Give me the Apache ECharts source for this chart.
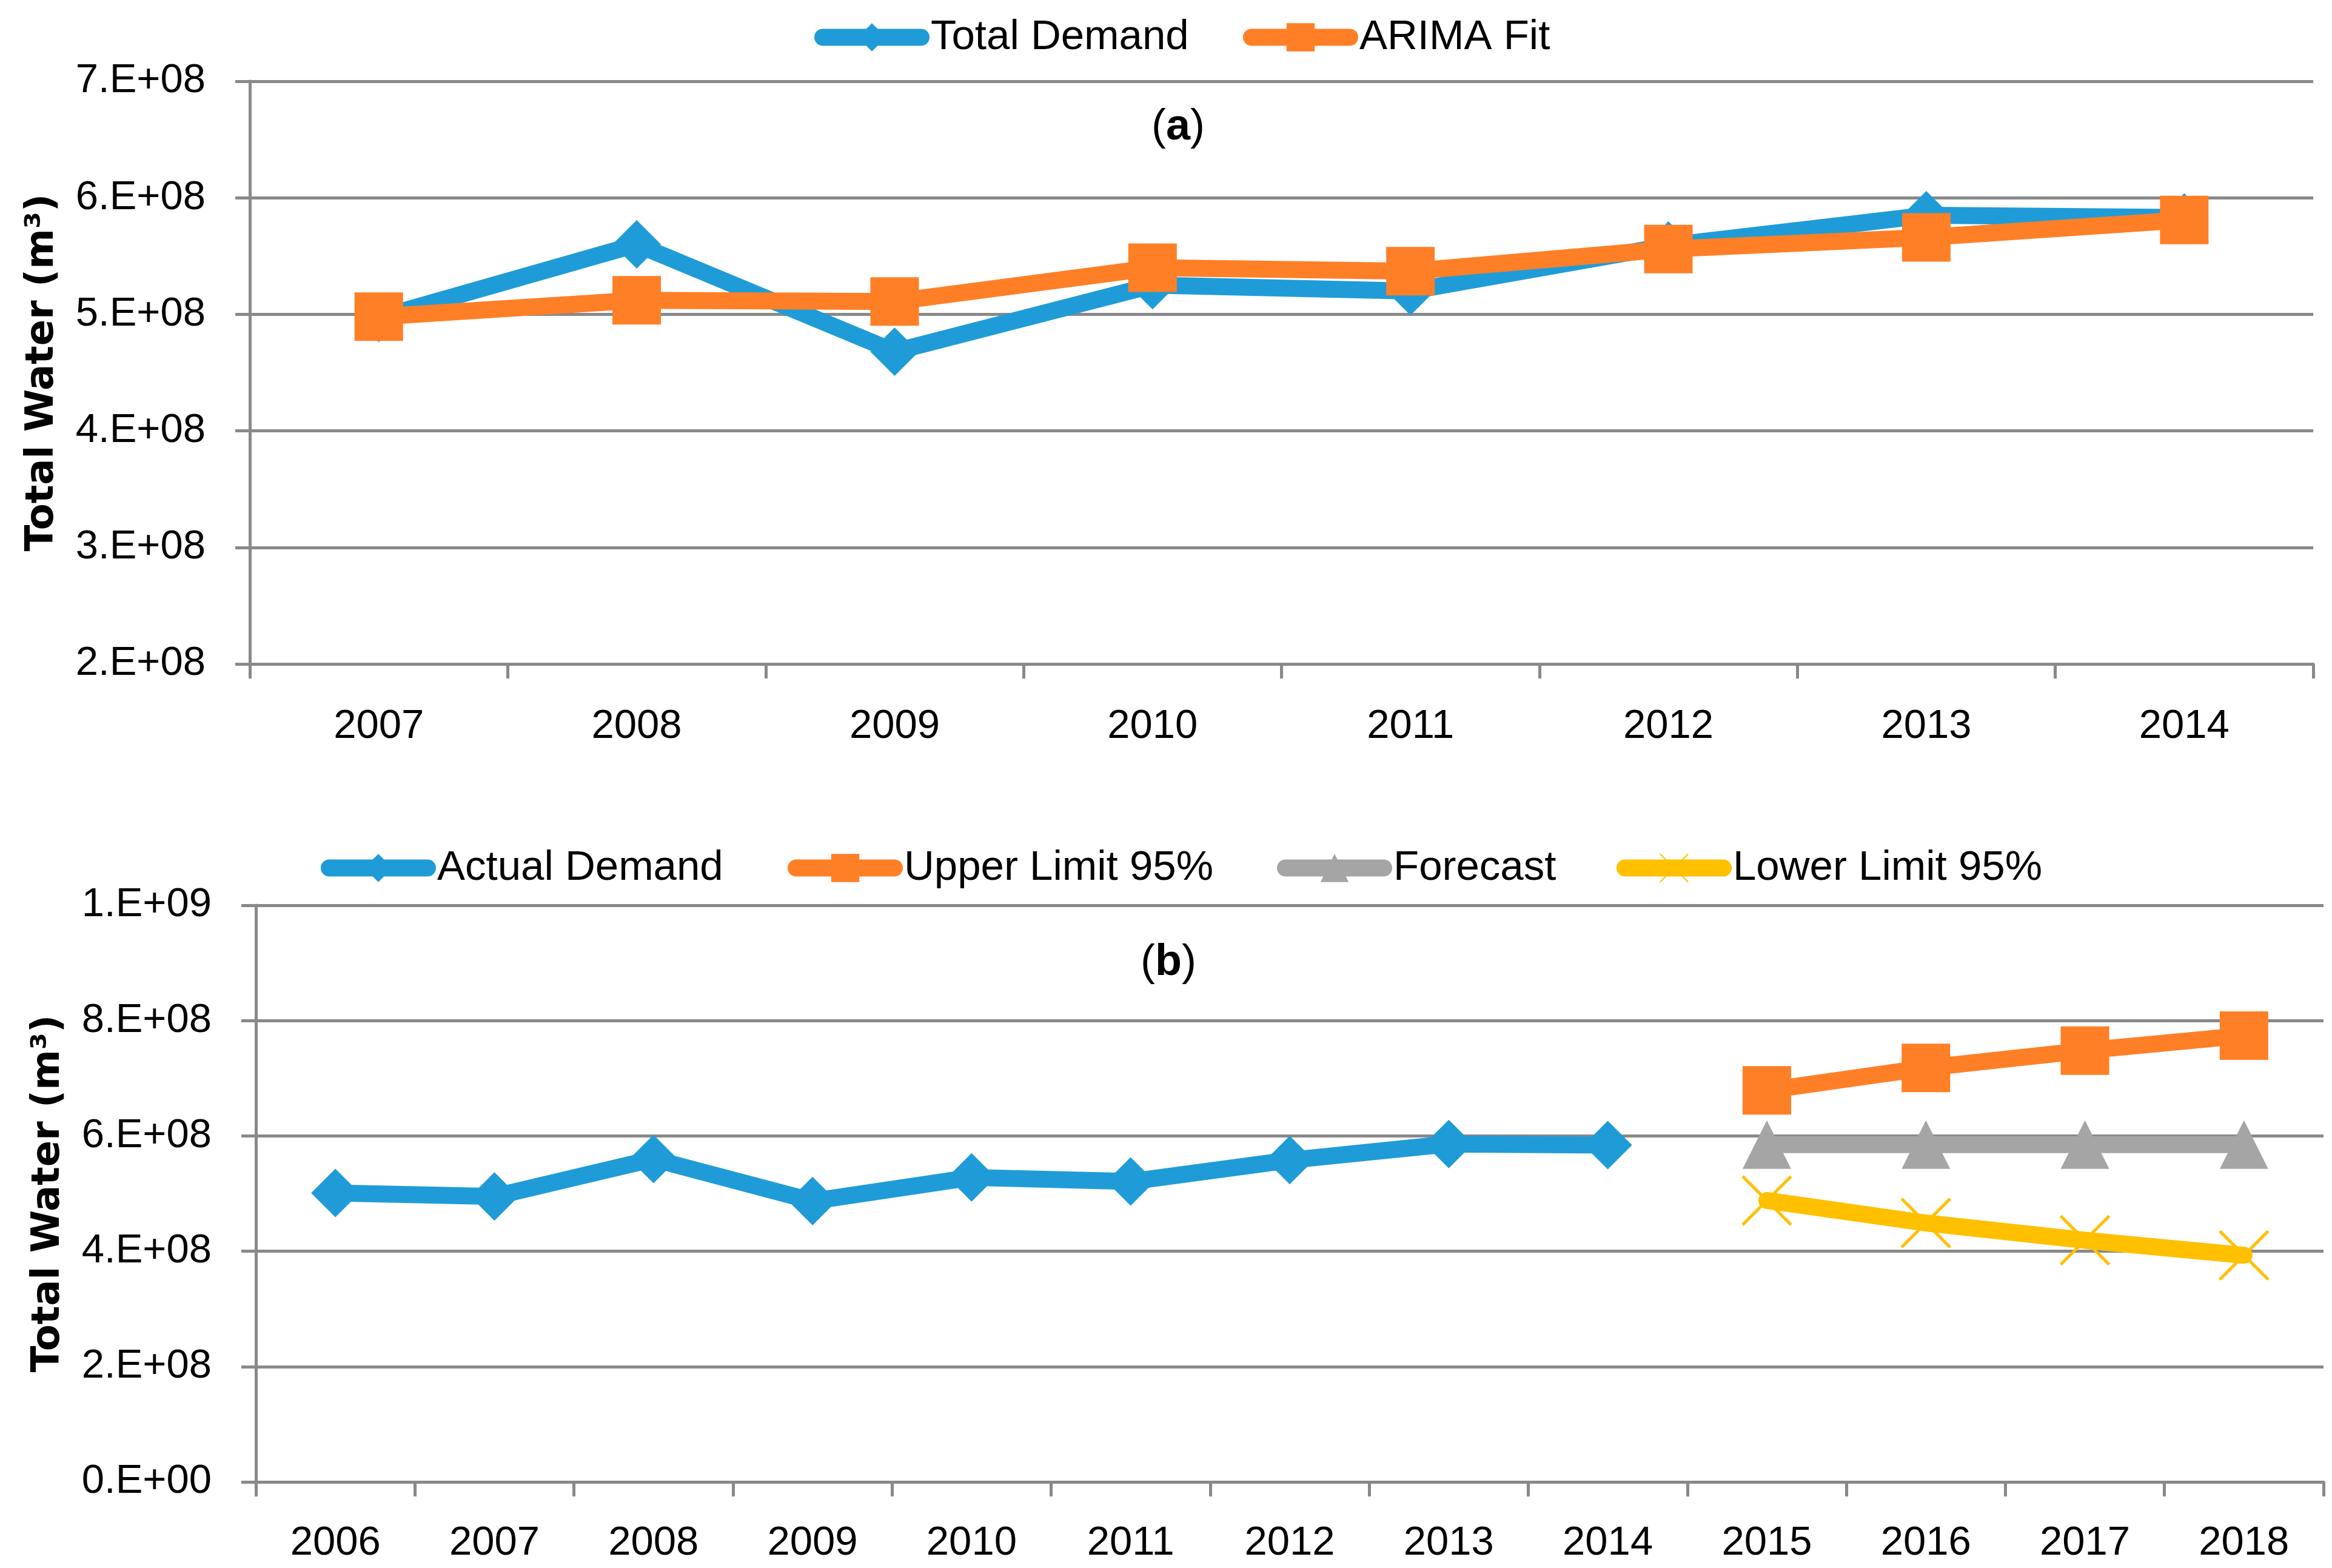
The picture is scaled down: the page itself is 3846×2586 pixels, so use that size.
<!DOCTYPE html>
<html>
<head>
<meta charset="utf-8">
<script src="https://cdn.jsdelivr.net/npm/echarts@6/dist/echarts.min.js"></script>
<style>
html,body{margin:0;padding:0;background:#fff;}
#c{width:3846px;height:2586px;}
</style>
</head>
<body>
<div id="c"></div>
<script>
// ---- Data ----
var yearsA = ['2007','2008','2009','2010','2011','2012','2013','2014'];
var totalDemand = [4.97e8, 5.60e8, 4.68e8, 5.25e8, 5.20e8, 5.59e8, 5.85e8, 5.83e8];
var arimaFit    = [4.98e8, 5.12e8, 5.11e8, 5.40e8, 5.37e8, 5.56e8, 5.66e8, 5.81e8];

var yearsB = ['2006','2007','2008','2009','2010','2011','2012','2013','2014','2015','2016','2017','2018'];
var actualDemand = [5.01e8, 4.95e8, 5.60e8, 4.87e8, 5.28e8, 5.21e8, 5.58e8, 5.86e8, 5.84e8, null, null, null, null];
var upperLimit   = [null, null, null, null, null, null, null, null, null, 6.79e8, 7.18e8, 7.48e8, 7.74e8];
var forecast     = [null, null, null, null, null, null, null, null, null, 5.85e8, 5.85e8, 5.85e8, 5.85e8];
var lowerLimit   = [null, null, null, null, null, null, null, null, null, 4.88e8, 4.49e8, 4.19e8, 3.93e8];

var yTicksA = ['2.E+08','3.E+08','4.E+08','5.E+08','6.E+08','7.E+08'];
var yTicksB = ['0.E+00','2.E+08','4.E+08','6.E+08','8.E+08','1.E+09'];
var minA = 2e8, maxA = 7e8, intA = 1e8;
var minB = 0, maxB = 1e9, intB = 2e8;

// ---- Styles ----
var FONT = 'Liberation Sans, Arial, sans-serif';
var GRAY = '#898989';
var BLUE = '#1F9CD8', ORANGE = '#FF7F27', LGRAY = '#A5A5A5', YELLOW = '#FFC000';
var LW = 28, MS = 80;
var XPATH = 'path://M0,0L10,10M10,0L0,10';

function xAxis(grid, cats, margin){
  return {
    type:'category', gridIndex:grid, data:cats, boundaryGap:true,
    axisLine:{show:true, lineStyle:{color:GRAY, width:5}},
    axisTick:{show:true, length:24, alignWithLabel:false, lineStyle:{color:GRAY, width:5}},
    axisLabel:{color:'#000', fontSize:67, fontFamily:FONT, margin:margin, interval:0},
    splitLine:{show:false}
  };
}
function yAxis(grid, min, max, interval, ticks){
  return {
    type:'value', gridIndex:grid, min:min, max:max, interval:interval,
    axisLine:{show:true, lineStyle:{color:GRAY, width:5}},
    axisTick:{show:true, length:24, lineStyle:{color:GRAY, width:5}},
    splitLine:{show:true, lineStyle:{color:GRAY, width:5}},
    axisLabel:{color:'#000', fontSize:67, fontFamily:FONT, margin:73,
      formatter:function(v){ return ticks[Math.round((v-min)/interval)]; }},
    name:'Total Water (m³)', nameLocation:'middle', nameGap:310, nameRotate:90,
    nameTextStyle:{color:'#000', fontFamily:'DejaVu Sans, sans-serif', fontWeight:'bold', fontSize:64}
  };
}
function lineSeries(name, data, color, symbol, xi, extra){
  var s = {
    name:name, type:'line', data:data, xAxisIndex:xi, yAxisIndex:xi,
    symbol:symbol, symbolSize:MS, connectNulls:false,
    lineStyle:{color:color, width:LW, cap:'round', join:'round'},
    itemStyle:{color:color},
    emphasis:{disabled:true}, animation:false
  };
  if (extra) for (var k in extra) s[k] = extra[k];
  return s;
}
function legend(name, iconLeft, top){
  return {
    data:[name], left:iconLeft - 6, top:top, orient:'horizontal',
    itemWidth:162, itemHeight:58, itemGap:0, selectedMode:false,
    textStyle:{color:'#000', fontSize:69, fontFamily:FONT, padding:[0,0,0,11]},
    lineStyle:{width:LW, cap:'round'}
  };
}

var chart = echarts.init(document.getElementById('c'), null, {renderer:'canvas'});
chart.setOption({
  backgroundColor:'#fff',
  animation:false,
  grid:[
    {left:412, right:31, top:134, bottom:2586-1095, containLabel:false},
    {left:422, right:14, top:1493, bottom:2586-2444, containLabel:false}
  ],
  xAxis:[xAxis(0, yearsA, 70), xAxis(1, yearsB, 68)],
  yAxis:[yAxis(0, minA, maxA, intA, yTicksA), yAxis(1, minB, maxB, intB, yTicksB)],
  legend:[
    legend('Total Demand', 1344, 22),
    legend('ARIMA Fit', 2051, 22),
    legend('Actual Demand', 530, 1392),
    legend('Upper Limit 95%', 1300, 1392),
    legend('Forecast', 2107, 1392),
    legend('Lower Limit 95%', 2667, 1392)
  ],
  graphic:[
    {type:'text', x:1943, y:210, style:{text:'{p|(}{b|a}{p|)}', align:'center', verticalAlign:'middle',
      rich:{p:{fontSize:72, fontFamily:FONT, fill:'#000'}, b:{fontSize:72, fontFamily:FONT, fontWeight:'bold', fill:'#000'}}}},
    {type:'text', x:1927, y:1588, style:{text:'{p|(}{b|b}{p|)}', align:'center', verticalAlign:'middle',
      rich:{p:{fontSize:72, fontFamily:FONT, fill:'#000'}, b:{fontSize:72, fontFamily:FONT, fontWeight:'bold', fill:'#000'}}}}
  ],
  series:[
    lineSeries('Total Demand', totalDemand, BLUE, 'diamond', 0, {z:2}),
    lineSeries('ARIMA Fit', arimaFit, ORANGE, 'rect', 0, {z:3}),
    lineSeries('Actual Demand', actualDemand, BLUE, 'diamond', 1),
    lineSeries('Upper Limit 95%', upperLimit, ORANGE, 'rect', 1),
    lineSeries('Forecast', forecast, LGRAY, 'triangle', 1),
    lineSeries('Lower Limit 95%', lowerLimit, YELLOW, XPATH, 1,
      {itemStyle:{color:YELLOW, borderColor:YELLOW, borderWidth:5}})
  ]
});
</script>
</body>
</html>
